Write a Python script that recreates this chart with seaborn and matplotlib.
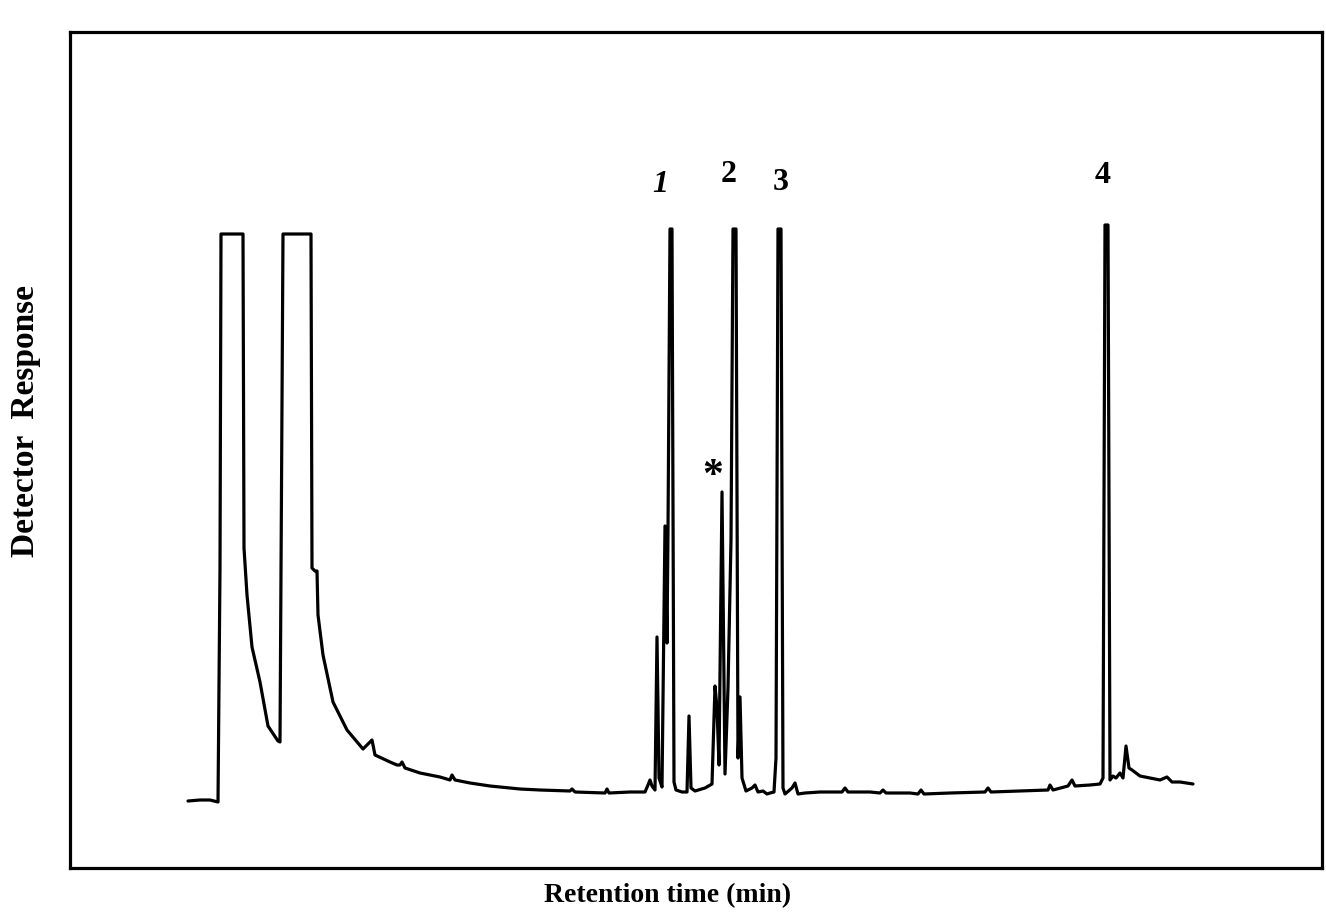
import numpy as np
import pandas as pd
import matplotlib
matplotlib.use('Agg')
import matplotlib.pyplot as plt
import seaborn as sns

# trace: retention time (arbitrary units) and detector response (arbitrary units)
time = [
    188, 200, 210, 218, 220, 221, 223, 243, 244, 247, 252, 260, 268, 278, 280,
    283, 284, 311, 312, 315, 317, 318, 323, 333, 347, 363, 372, 375, 390, 397,
    400, 402, 405, 420, 440, 450, 452, 455, 470, 490, 520, 540, 570, 572, 575,
    605, 607, 609, 630, 645, 648, 650, 652, 655, 657, 659, 662, 665, 667, 668,
    670, 672, 674, 676, 682, 687, 689, 691, 695, 705, 712, 715, 717, 719, 722,
    725, 728, 731, 733, 736, 738, 740, 742, 746, 752, 755, 758, 763, 767, 770,
    774, 776, 778, 781, 783, 785, 792, 795, 798, 805, 820, 842, 845, 848, 870,
    880, 883, 886, 910, 918, 921, 924, 950, 985, 988, 991, 1020, 1048, 1050, 1053,
    1068, 1072, 1075, 1090, 1100, 1103, 1105, 1108, 1110, 1113, 1116, 1120, 1123, 1126, 1129,
    1132, 1140, 1150, 1160, 1167, 1172, 1180, 1193,
]
response = [
    67, 68, 68, 66, 300, 634, 634, 634, 320, 273, 221, 186, 142, 127, 126,
    634, 634, 634, 300, 297, 297, 253, 213, 166, 138, 119, 128, 113, 106, 103,
    103, 106, 100, 95, 91, 88, 93, 88, 85, 82, 79, 78, 77, 79, 76,
    75, 79, 75, 76, 76, 83, 88, 82, 78, 231, 90, 81, 342, 225, 338,
    639, 639, 86, 78, 76, 76, 152, 80, 77, 80, 84, 182, 160, 103, 376,
    94, 180, 328, 639, 639, 110, 171, 90, 77, 80, 83, 76, 77, 74, 75,
    76, 110, 639, 639, 80, 74, 80, 85, 74, 75, 76, 76, 80, 76, 76,
    75, 78, 75, 75, 74, 78, 74, 75, 76, 80, 76, 77, 78, 83, 78,
    82, 88, 82, 83, 84, 90, 643, 643, 88, 92, 90, 95, 90, 122, 100,
    98, 92, 90, 88, 91, 86, 86, 84,
]

peak_labels = ['1', '2', '3', '4', '*']
label_time = [660, 729, 781, 1103, 713]
label_resp = [669, 679, 671, 678, 372]

df = pd.DataFrame({'time': time, 'response': response})

sns.set_style('white')
plt.rcParams['font.family'] = ['Liberation Serif', 'DejaVu Serif']

fig = plt.figure(figsize=(13.26, 9.13), dpi=100)
ax = fig.add_axes([70 / 1326, 1 - 868 / 913, 1252 / 1326, 836 / 913])

sns.lineplot(data=df, x='time', y='response', sort=False, estimator=None,
             color='black', linewidth=2.3, ax=ax)

for lab, t, r in zip(peak_labels, label_time, label_resp):
    style = 'italic' if lab == '1' else 'normal'
    fs = 30 if lab == '*' else 23
    ax.text(t, r, lab, ha='center', va='bottom', fontsize=fs,
            fontweight='bold', fontstyle=style, color='black')

ax.set_xlim(70, 1322)
ax.set_ylim(0, 836)
ax.set_xticks([])
ax.set_yticks([])
ax.set_xlabel('Retention time (min)', fontsize=20, fontweight='bold', color='black')
ax.set_ylabel('Detector  Response', fontsize=24, fontweight='bold', color='black')
ax.xaxis.set_label_coords(0.477, -0.018, transform=ax.transAxes)
ax.yaxis.set_label_coords(-0.023, 0.535, transform=ax.transAxes)
for s in ax.spines.values():
    s.set_linewidth(2.3)
    s.set_color('black')

fig.savefig('out.png', dpi=100)
